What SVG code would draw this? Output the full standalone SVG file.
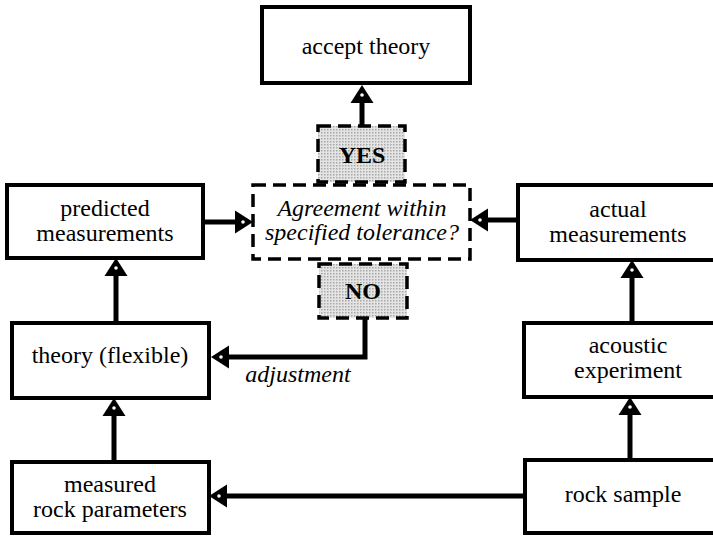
<svg xmlns="http://www.w3.org/2000/svg" width="713" height="536" viewBox="0 0 713 536">
<defs>
<style>
.box{fill:#fff;stroke:#000;stroke-width:4}
.dash{fill:#fff;stroke:#000;stroke-width:3.5;stroke-dasharray:13 7}
.gray{fill:url(#stip);stroke:#000;stroke-width:3.5;stroke-dasharray:13 7}
text{font-family:'Liberation Serif','Times New Roman','DejaVu Serif',serif;font-size:24px;fill:#000;text-anchor:middle}
.i{font-style:italic}
.b{font-weight:bold}
.c{fill:none;stroke:#000;stroke-width:5;marker-end:url(#ah)}
</style>
<pattern id="stip" width="3" height="3" patternUnits="userSpaceOnUse">
<rect width="3" height="3" fill="#e4e4e4"/>
<rect width="1.5" height="1.5" fill="#a8a8a8"/>
</pattern>
<marker id="ah" markerUnits="userSpaceOnUse" markerWidth="22" markerHeight="26" refX="0" refY="0" orient="auto" viewBox="0 -13 22 26" overflow="visible">
<path d="M0,-11.5 L18,0 L0,11.5 Z" fill="#000"/>
<circle cx="8" cy="0" r="1.8" fill="#fff"/>
</marker>
</defs>
<g id="connectors">
<path class="c" d="M362,126 V103"/>
<path class="c" d="M203,222 H235"/>
<path class="c" d="M518,220 H488"/>
<path class="c" d="M365,318 V357 H229"/>
<path class="c" d="M116,323 V276"/>
<path class="c" d="M114,462 V416"/>
<path class="c" d="M525,496 H227"/>
<path class="c" d="M630,460 V415"/>
<path class="c" d="M632,323 V278"/>
</g>
<g id="accept">
<rect class="box" x="262" y="7" width="208" height="76"/>
<text font-family="Liberation Serif, serif" x="366" y="54">accept theory</text>
</g>
<g id="yes">
<rect class="gray" x="318" y="126" width="87" height="56"/>
<text class="b" font-family="Liberation Serif, serif" x="362" y="163">YES</text>
</g>
<g id="agreement">
<rect class="dash" x="253" y="185" width="217" height="74"/>
<text class="i" font-family="Liberation Serif, serif" x="362" y="216">Agreement within</text>
<text class="i" font-family="Liberation Serif, serif" x="362" y="240">specified tolerance?</text>
</g>
<g id="no">
<rect class="gray" x="319" y="264" width="88" height="54"/>
<text class="b" font-family="Liberation Serif, serif" x="363" y="299">NO</text>
</g>
<g id="adjustment-label">
<text class="i" font-family="Liberation Serif, serif" x="298" y="382">adjustment</text>
</g>
<g id="predicted">
<rect class="box" x="7" y="185" width="196" height="73"/>
<text font-family="Liberation Serif, serif" x="105" y="216">predicted</text>
<text font-family="Liberation Serif, serif" x="105" y="241">measurements</text>
</g>
<g id="actual">
<rect class="box" x="518" y="185" width="205" height="75"/>
<text font-family="Liberation Serif, serif" x="618" y="217">actual</text>
<text font-family="Liberation Serif, serif" x="618" y="242">measurements</text>
</g>
<g id="theory">
<rect class="box" x="12" y="323" width="197" height="75"/>
<text font-family="Liberation Serif, serif" x="110" y="363">theory (flexible)</text>
</g>
<g id="acoustic">
<rect class="box" x="524" y="323" width="200" height="74"/>
<text font-family="Liberation Serif, serif" x="628" y="353">acoustic</text>
<text font-family="Liberation Serif, serif" x="628" y="378">experiment</text>
</g>
<g id="measured">
<rect class="box" x="12" y="462" width="197" height="71"/>
<text font-family="Liberation Serif, serif" x="110" y="492">measured</text>
<text font-family="Liberation Serif, serif" x="110" y="517">rock parameters</text>
</g>
<g id="rock">
<rect class="box" x="525" y="460" width="200" height="73"/>
<text font-family="Liberation Serif, serif" x="623" y="502">rock sample</text>
</g>
</svg>
